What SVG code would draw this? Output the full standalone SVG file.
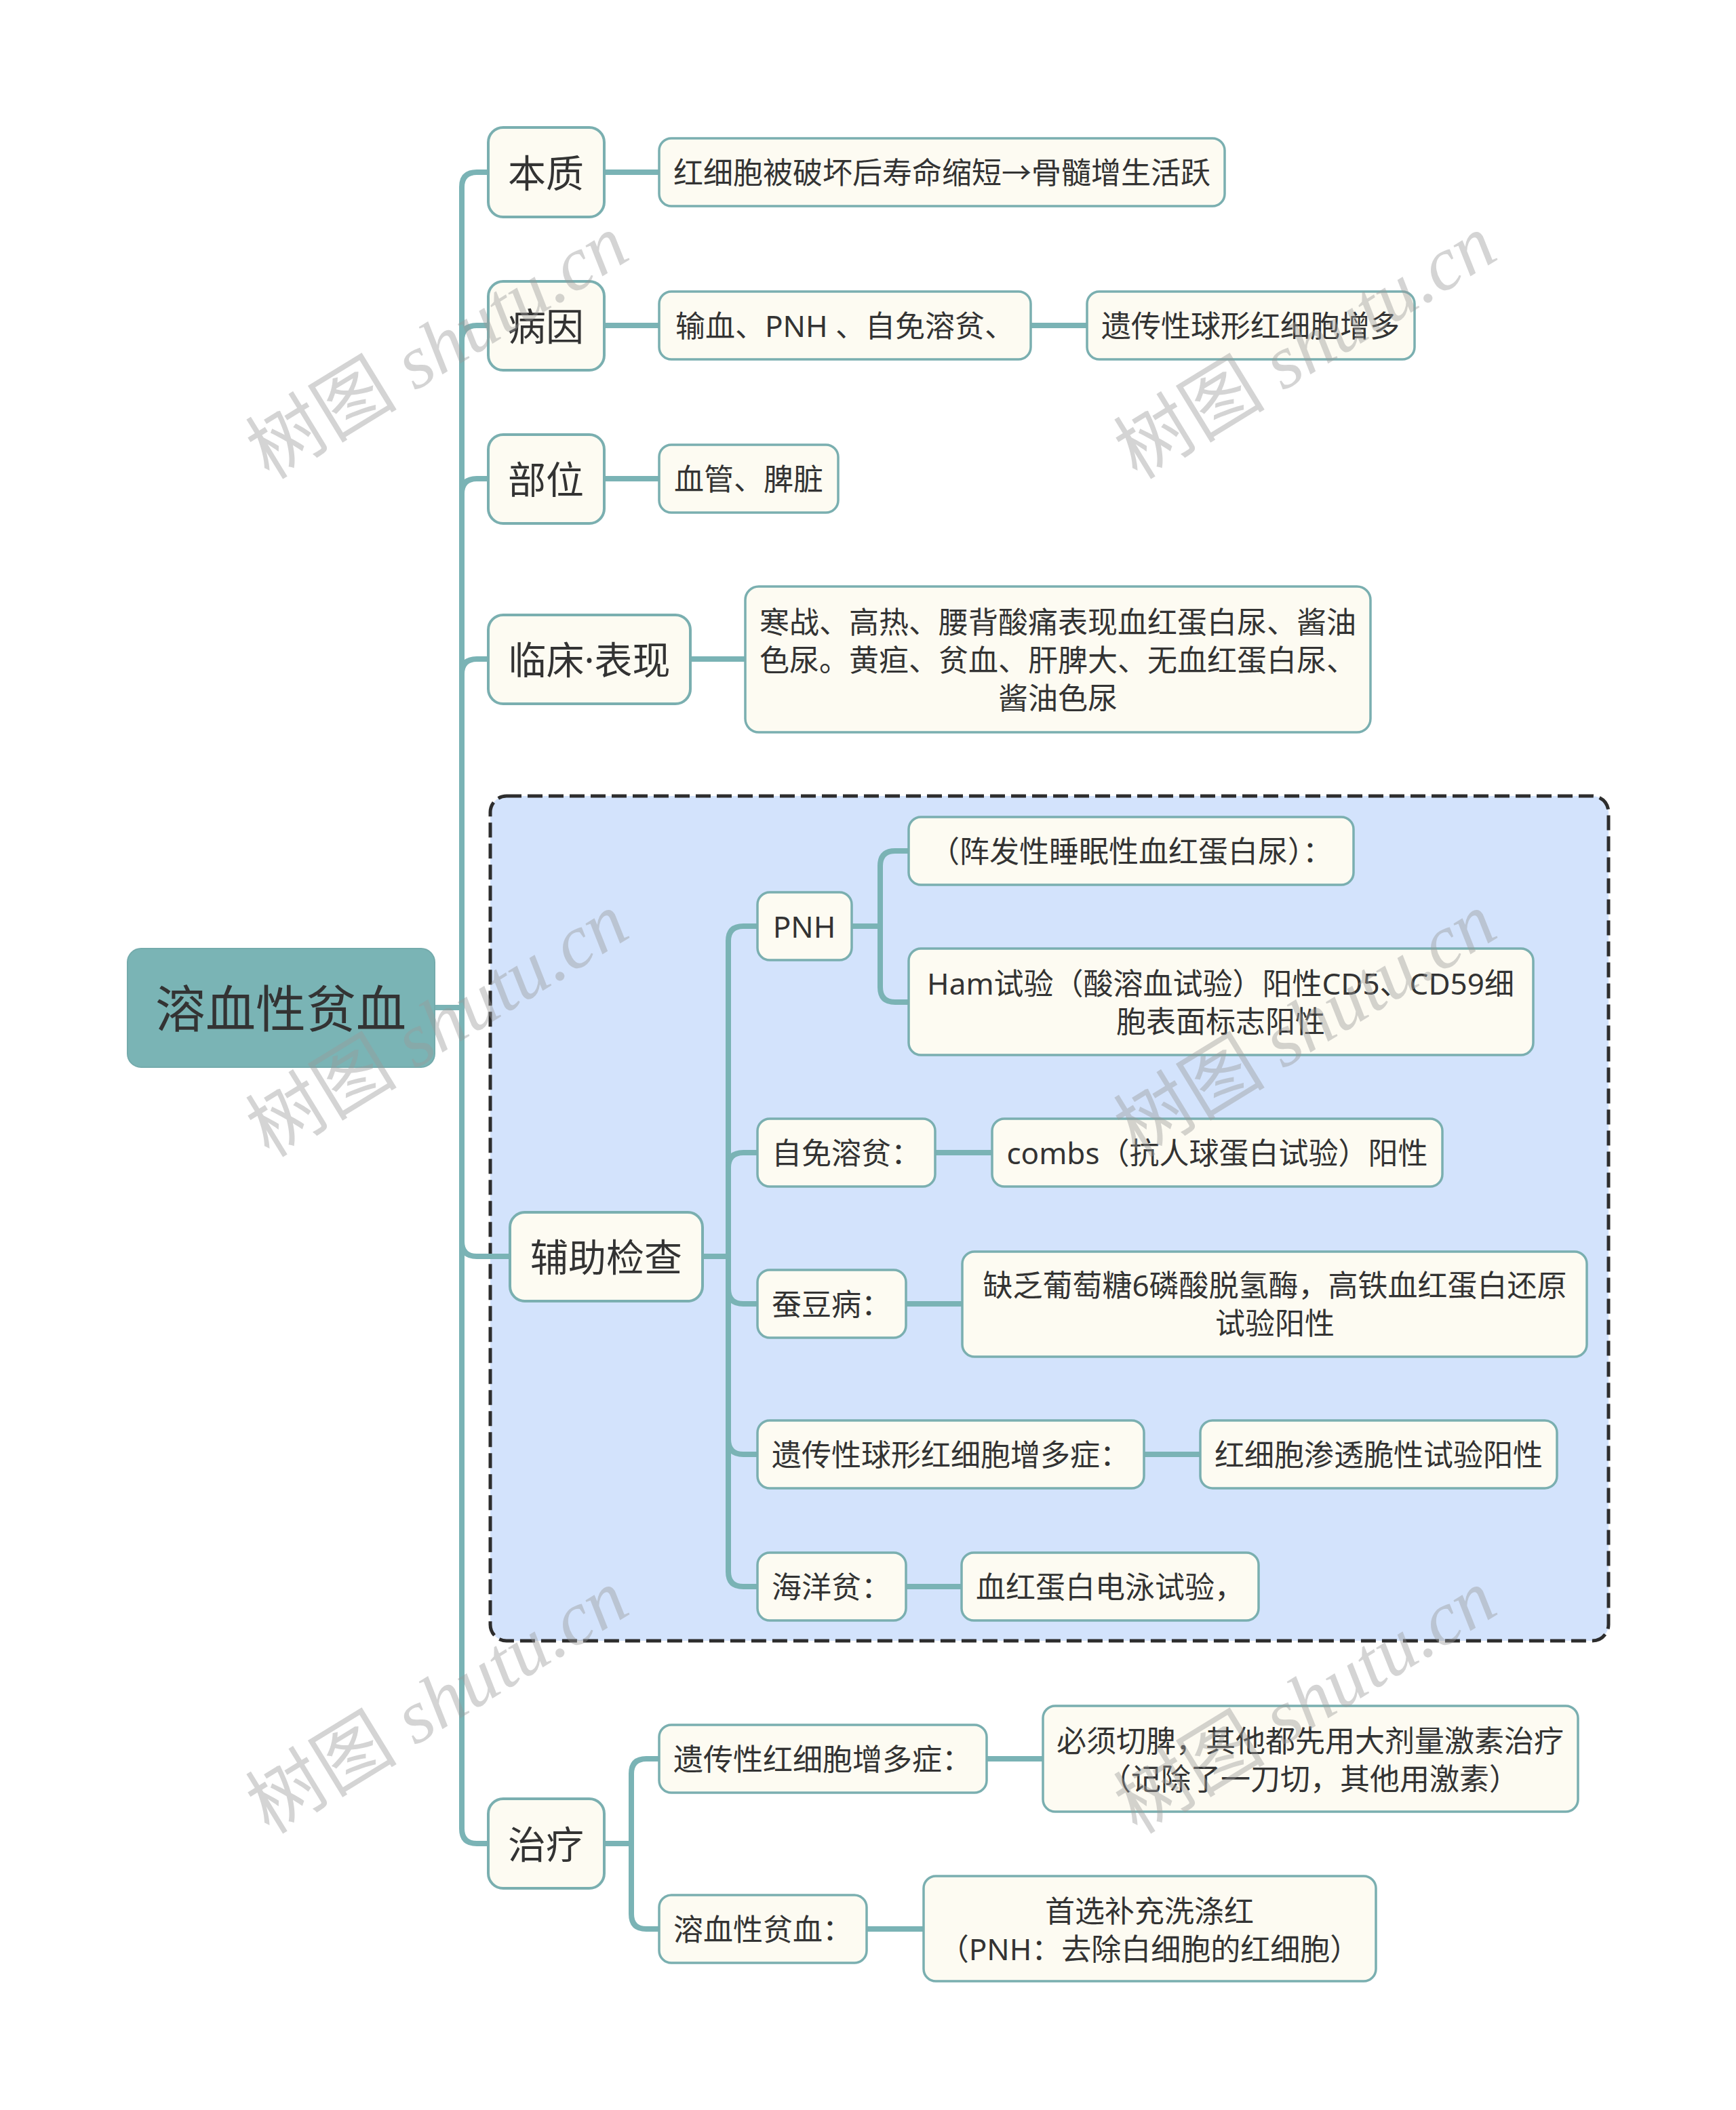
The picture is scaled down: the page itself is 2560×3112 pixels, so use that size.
<svg xmlns="http://www.w3.org/2000/svg" width="2560" height="3112" viewBox="0 0 2560 3112">
<style>
.bg{fill:#ffffff}
.conn path{fill:none;stroke:#7ab3b5;stroke-width:8;stroke-linecap:butt}
.n1 rect{fill:#fdfbf2;stroke:#7aafb0;stroke-width:4}
.n2 rect{fill:#fdfbf2;stroke:#7aafb0;stroke-width:3.5}
.root rect{fill:#7ab4b5;stroke:#74abac;stroke-width:2}
text{font-family:"Noto Sans","Noto Sans CJK SC",sans-serif;fill:#333333;text-anchor:middle;dominant-baseline:central}
.t0{font-size:74px}
.t1{font-size:56px}
.t2{font-size:44px}
.wm text{font-size:112px;fill:#9a9a9a;opacity:0.42;font-family:"Liberation Serif","Noto Sans CJK SC",serif}
.wm tspan{font-style:italic}
</style>
<rect class="bg" x="0" y="0" width="2560" height="3112"/>
<rect id="group-box" x="723" y="1174" width="1649" height="1246" rx="24" fill="#d3e3fc" stroke="#2d2d2d" stroke-width="5" stroke-dasharray="22 9"/>
<g id="connectors" class="conn">
<path d="M641,1486 H681"/>
<path d="M681,1486 V276 Q681,254 703,254 H720"/>
<path d="M681,1486 V502 Q681,480 703,480 H720"/>
<path d="M681,1486 V728 Q681,706 703,706 H720"/>
<path d="M681,1486 V994 Q681,972 703,972 H720"/>
<path d="M681,1486 V1831 Q681,1853 703,1853 H752"/>
<path d="M681,1486 V2697 Q681,2719 703,2719 H720"/>
<path d="M891,254 H972"/>
<path d="M891,480 H972"/>
<path d="M1520,480 H1603"/>
<path d="M891,706 H972"/>
<path d="M1018,972 H1099"/>
<path d="M1036,1853 H1074"/>
<path d="M1074,1853 V1388 Q1074,1366 1096,1366 H1117"/>
<path d="M1074,1853 V1722 Q1074,1700 1096,1700 H1117"/>
<path d="M1074,1853 V1901 Q1074,1923 1096,1923 H1117"/>
<path d="M1074,1853 V2123 Q1074,2145 1096,2145 H1117"/>
<path d="M1074,1853 V2318 Q1074,2340 1096,2340 H1117"/>
<path d="M1256,1366 H1298"/>
<path d="M1298,1366 V1277 Q1298,1255 1320,1255 H1340"/>
<path d="M1298,1366 V1456 Q1298,1478 1320,1478 H1340"/>
<path d="M1379,1700 H1463"/>
<path d="M1336,1923 H1419"/>
<path d="M1687,2145 H1770"/>
<path d="M1336,2340 H1418"/>
<path d="M891,2719 H931"/>
<path d="M931,2719 V2616 Q931,2594 953,2594 H972"/>
<path d="M931,2719 V2823 Q931,2845 953,2845 H972"/>
<path d="M1455,2594 H1538"/>
<path d="M1278,2845 H1362"/>
</g>
<g id="root" class="root"><rect x="188" y="1399" width="453" height="175" rx="20"/><text class="t0" x="414" y="1486">溶血性贫血</text></g>
<g id="n-benzhi" class="n1"><rect x="720" y="188" width="171" height="132" rx="22"/><text class="t1" x="805" y="254">本质</text></g>
<g id="n-bingyin" class="n1"><rect x="720" y="415" width="171" height="131" rx="22"/><text class="t1" x="805" y="480">病因</text></g>
<g id="n-buwei" class="n1"><rect x="720" y="641" width="171" height="131" rx="22"/><text class="t1" x="805" y="706">部位</text></g>
<g id="n-linchuang" class="n1"><rect x="720" y="907" width="298" height="131" rx="22"/><text class="t1" x="869" y="972">临床·表现</text></g>
<g id="n-fuzhu" class="n1"><rect x="752" y="1788" width="284" height="131" rx="22"/><text class="t1" x="894" y="1853">辅助检查</text></g>
<g id="n-zhiliao" class="n1"><rect x="720" y="2653" width="171" height="132" rx="22"/><text class="t1" x="805" y="2719">治疗</text></g>
<g id="n-benzhi-1" class="n2"><rect x="972" y="204" width="834" height="100" rx="18"/><text class="t2" x="1389" y="254">红细胞被破坏后寿命缩短→骨髓增生活跃</text></g>
<g id="n-bingyin-1" class="n2"><rect x="972" y="430" width="548" height="100" rx="18"/><text class="t2" x="1246" y="480">输血、PNH 、自免溶贫、</text></g>
<g id="n-bingyin-2" class="n2"><rect x="1603" y="430" width="483" height="100" rx="18"/><text class="t2" x="1844" y="480">遗传性球形红细胞增多</text></g>
<g id="n-buwei-1" class="n2"><rect x="972" y="656" width="264" height="100" rx="18"/><text class="t2" x="1104" y="706">血管、脾脏</text></g>
<g id="n-linchuang-1" class="n2"><rect x="1099" y="865" width="922" height="215" rx="20"/><text class="t2" x="1560" y="917">寒战、高热、腰背酸痛表现血红蛋白尿、酱油</text><text class="t2" x="1560" y="973">色尿。黄疸、贫血、肝脾大、无血红蛋白尿、</text><text class="t2" x="1560" y="1029">酱油色尿</text></g>
<g id="n-pnh" class="n2"><rect x="1117" y="1316" width="139" height="100" rx="18"/><text class="t2" x="1186" y="1366">PNH</text></g>
<g id="n-pnh-1" class="n2"><rect x="1340" y="1205" width="656" height="100" rx="18"/><text class="t2" x="1668" y="1255">（阵发性睡眠性血红蛋白尿）：</text></g>
<g id="n-pnh-2" class="n2"><rect x="1340" y="1399" width="921" height="157" rx="18"/><text class="t2" x="1800" y="1450">Ham试验（酸溶血试验）阳性CD5、CD59细</text><text class="t2" x="1800" y="1506">胞表面标志阳性</text></g>
<g id="n-zimian" class="n2"><rect x="1117" y="1650" width="262" height="100" rx="18"/><text class="t2" x="1248" y="1700">自免溶贫：</text></g>
<g id="n-zimian-1" class="n2"><rect x="1463" y="1650" width="664" height="100" rx="18"/><text class="t2" x="1795" y="1700">combs（抗人球蛋白试验）阳性</text></g>
<g id="n-candou" class="n2"><rect x="1117" y="1873" width="219" height="100" rx="18"/><text class="t2" x="1226" y="1923">蚕豆病：</text></g>
<g id="n-candou-1" class="n2"><rect x="1419" y="1846" width="921" height="155" rx="18"/><text class="t2" x="1880" y="1895">缺乏葡萄糖6磷酸脱氢酶，高铁血红蛋白还原</text><text class="t2" x="1880" y="1951">试验阳性</text></g>
<g id="n-yichuan" class="n2"><rect x="1117" y="2095" width="570" height="100" rx="18"/><text class="t2" x="1402" y="2145">遗传性球形红细胞增多症：</text></g>
<g id="n-yichuan-1" class="n2"><rect x="1770" y="2095" width="526" height="100" rx="18"/><text class="t2" x="2033" y="2145">红细胞渗透脆性试验阳性</text></g>
<g id="n-haiyang" class="n2"><rect x="1117" y="2290" width="219" height="100" rx="18"/><text class="t2" x="1226" y="2340">海洋贫：</text></g>
<g id="n-haiyang-1" class="n2"><rect x="1418" y="2290" width="438" height="100" rx="18"/><text class="t2" x="1637" y="2340">血红蛋白电泳试验，</text></g>
<g id="n-zl-1" class="n2"><rect x="972" y="2544" width="483" height="100" rx="18"/><text class="t2" x="1213" y="2594">遗传性红细胞增多症：</text></g>
<g id="n-zl-1a" class="n2"><rect x="1538" y="2516" width="789" height="156" rx="18"/><text class="t2" x="1932" y="2567">必须切脾，其他都先用大剂量激素治疗</text><text class="t2" x="1932" y="2623">（记除了一刀切，其他用激素）</text></g>
<g id="n-zl-2" class="n2"><rect x="972" y="2795" width="306" height="100" rx="18"/><text class="t2" x="1125" y="2845">溶血性贫血：</text></g>
<g id="n-zl-2a" class="n2"><rect x="1362" y="2767" width="667" height="155" rx="18"/><text class="t2" x="1695" y="2818">首选补充洗涤红</text><text class="t2" x="1695" y="2874">（PNH：去除白细胞的红细胞）</text></g>
<g id="watermarks" class="wm">
<text x="645" y="512" transform="rotate(-31.5 645 512)">树图 <tspan>shutu.cn</tspan></text>
<text x="1925" y="512" transform="rotate(-31.5 1925 512)">树图 <tspan>shutu.cn</tspan></text>
<text x="645" y="1512" transform="rotate(-31.5 645 1512)">树图 <tspan>shutu.cn</tspan></text>
<text x="1925" y="1512" transform="rotate(-31.5 1925 1512)">树图 <tspan>shutu.cn</tspan></text>
<text x="645" y="2510" transform="rotate(-31.5 645 2510)">树图 <tspan>shutu.cn</tspan></text>
<text x="1925" y="2510" transform="rotate(-31.5 1925 2510)">树图 <tspan>shutu.cn</tspan></text>
</g>
</svg>
